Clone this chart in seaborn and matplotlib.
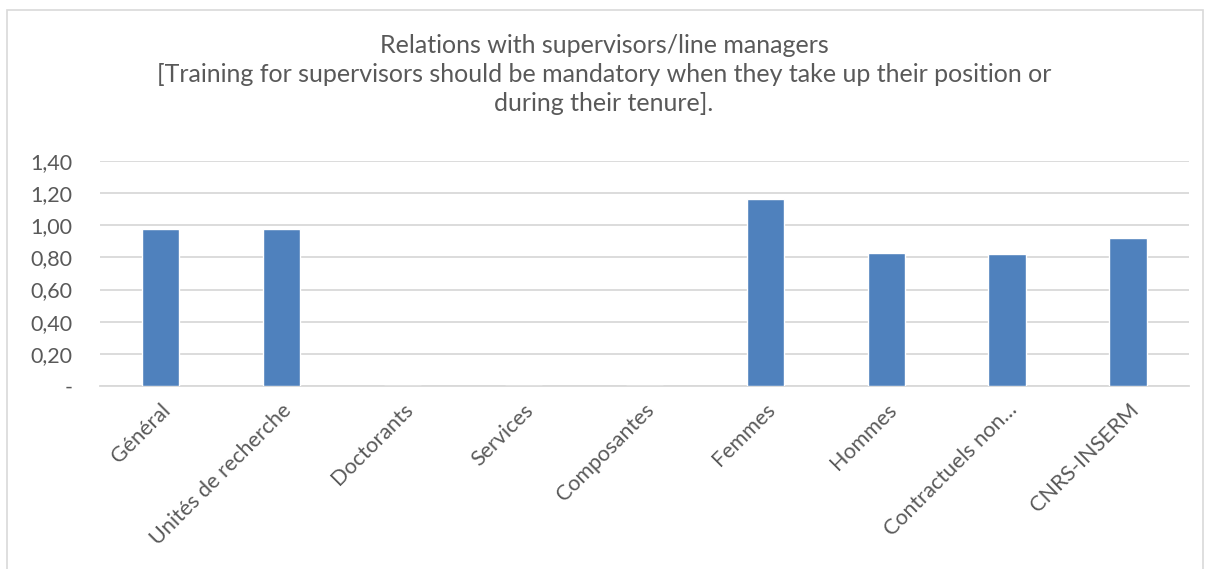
import matplotlib
matplotlib.use("Agg")
import matplotlib.pyplot as plt
import seaborn as sns
import pandas as pd
from matplotlib.patches import Rectangle
from matplotlib.ticker import FuncFormatter

# Data
categories = ["Général", "Unités de recherche", "Doctorants", "Services",
              "Composantes", "Femmes", "Hommes", "Contractuels non…", "CNRS-INSERM"]
values = [0.975, 0.975, 0, 0, 0, 1.163, 0.830, 0.820, 0.919]
y_ticks = [0, 0.2, 0.4, 0.6, 0.8, 1.0, 1.2, 1.4]

title = ("Relations with supervisors/line managers\n"
         "[Training for supervisors should be mandatory when they take up their position or\n"
         "during their tenure].")

sns.set_theme(style="white")
plt.rcParams['font.family'] = ['Lato', 'DejaVu Sans']

grey = "#595959"
bar_color = "#4f81bd"

df = pd.DataFrame({"category": categories, "value": values})

fig = plt.figure(figsize=(12.08, 5.69), dpi=100)
ax = fig.add_axes([0.0828, 0.3216, 0.9012, 0.3954])

sns.barplot(data=df, x="category", y="value", color=bar_color, width=0.31,
            saturation=1, ax=ax, zorder=3)

ax.set_ylim(0, 1.4)
ax.set_xlim(-0.5, len(categories) - 0.5)
ax.set_yticks(y_ticks)
ax.yaxis.set_major_formatter(FuncFormatter(
    lambda v, p: "-" if abs(v) < 1e-9 else f"{v:.2f}".replace(".", ",")))
ax.grid(True, axis="y", color="#d9d9d9", linewidth=1.3, zorder=0)
ax.set_axisbelow(True)
for s in ["top", "right", "left"]:
    ax.spines[s].set_visible(False)
ax.spines["bottom"].set_color("#d9d9d9")
ax.spines["bottom"].set_linewidth(1.3)

ax.tick_params(axis="y", labelsize=15.5, labelcolor=grey, length=0, pad=20)
ax.tick_params(axis="x", labelsize=15.5, labelcolor=grey, length=0)
ax.set_xticks(range(len(categories)))
ax.set_xticklabels(categories, rotation=45, ha="right", va="top",
                   rotation_mode="anchor")
for lbl in ax.get_xticklabels():
    lbl.set_y(-0.04)
ax.set_xlabel("")
ax.set_ylabel("")

fig.text(0.5, 0.94, title, ha="center", va="top", fontsize=18,
         color=grey, linespacing=1.3)

fig.patches.append(Rectangle((0.006, -0.01), 0.99, 0.993, transform=fig.transFigure,
                             fill=False, edgecolor="#d9d9d9", linewidth=1.2))

fig.savefig("out.png", dpi=100)
